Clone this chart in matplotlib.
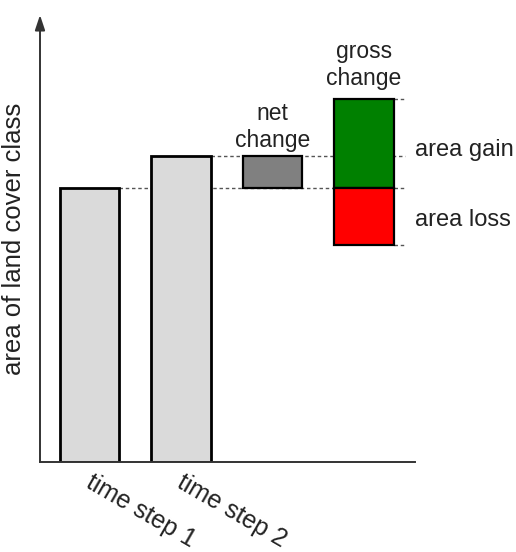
import matplotlib.pyplot as plt

plt.rcParams['font.family'] = ['Liberation Sans', 'DejaVu Sans']

# area of land cover class (arbitrary units)
time_labels = ['time step 1', 'time step 2']
area_t1 = 5.5
area_t2 = 6.15
area_gain = 1.8
area_loss = 1.15
net_change = area_t2 - area_t1

bar_x = [0, 1, 2, 3]
bar_w = 0.65
txt = '#222222'

fig = plt.figure(figsize=(5.16, 5.52), dpi=100)
ax = fig.add_axes([40 / 516, 90 / 552, 375 / 516, 447 / 552])
ax.set_xlim(-0.54, 3.56)
ax.set_ylim(0, 8.98)

# dashed reference lines
dash = dict(color='#555555', lw=1, ls=(0, (2.5, 2)), zorder=1)
ax.plot([bar_x[0] + bar_w / 2, 3.45], [area_t1, area_t1], **dash)
ax.plot([bar_x[1] + bar_w / 2, 3.45], [area_t2, area_t2], **dash)
ax.plot([bar_x[3] + bar_w / 2, 3.45], [area_t1 + area_gain] * 2, **dash)
ax.plot([bar_x[3] + bar_w / 2, 3.45], [area_t1 - area_loss] * 2, **dash)

# bars
ax.bar(bar_x[:2], [area_t1, area_t2], width=bar_w, color='#dadada',
       edgecolor='black', lw=2, zorder=2)
ax.bar(bar_x[2], net_change, bottom=area_t1, width=bar_w, color='#808080',
       edgecolor='black', lw=1.6, zorder=2)
ax.bar(bar_x[3], area_gain, bottom=area_t1, width=bar_w, color='#008000',
       edgecolor='black', lw=1.6, zorder=2)
ax.bar(bar_x[3], area_loss, bottom=area_t1 - area_loss, width=bar_w,
       color='#ff0000', edgecolor='black', lw=1.6, zorder=2)

# labels
ax.text(bar_x[2], area_t2 + 0.08, 'net\nchange', ha='center', va='bottom',
        fontsize=16.5, linespacing=1.2, color=txt)
ax.text(bar_x[3], area_t1 + area_gain + 0.18, 'gross\nchange', ha='center',
        va='bottom', fontsize=16.5, linespacing=1.2, color=txt)
ax.text(3.56, 6.27, 'area gain', ha='left', va='center', fontsize=17,
        color=txt)
ax.text(3.56, 4.86, 'area loss', ha='left', va='center', fontsize=17,
        color=txt)

# time step labels below the axis
xax = ax.get_xaxis_transform()
for x, lab in zip(bar_x[:2], time_labels):
    ax.text(x + 0.05, -0.018, lab, transform=xax, rotation=-30,
            rotation_mode='anchor', ha='left', va='top', fontsize=18,
            color=txt)

# axes styling
for s in ['top', 'right', 'left']:
    ax.spines[s].set_visible(False)
ax.spines['bottom'].set_color('#333333')
ax.spines['bottom'].set_linewidth(1.4)
ax.annotate('', xy=(0, 1), xytext=(0, 0), xycoords='axes fraction',
            arrowprops=dict(arrowstyle='-|>,head_length=0.9,head_width=0.3',
                            color='#333333', lw=1.4, shrinkA=0, shrinkB=0))

ax.set_yticks([])
ax.set_xticks([])

ax.set_ylabel('area of land cover class', fontsize=18.5, color=txt)
ax.yaxis.set_label_coords(-0.038, 0.5)

fig.savefig('out.png', dpi=100, facecolor='white')
